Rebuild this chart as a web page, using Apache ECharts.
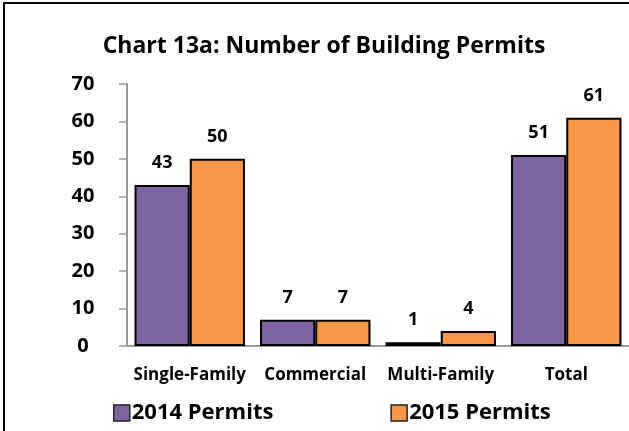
<!DOCTYPE html>
<html>
<head>
<meta charset="utf-8">
<script src="https://cdn.jsdelivr.net/npm/echarts@6/dist/echarts.min.js"></script>
<style>
  html, body { margin: 0; padding: 0; background: #fff; }
  #chart { width: 629px; height: 431px; }
</style>
</head>
<body>
<div id="chart"></div>
<script>
// 数据
var categories = ['Single-Family', 'Commercial', 'Multi-Family', 'Total'];
var permits2014 = [43, 7, 1, 51];
var permits2015 = [50, 7, 4, 61];
var yTicks = [0, 10, 20, 30, 40, 50, 60, 70];

var fontName = 'Open Sans';

var chart = echarts.init(document.getElementById('chart'));

var option = {
        backgroundColor: '#fff',
        animation: false,
        title: {
                text: 'Chart 13a: Number of Building Permits',
                left: 319,
                textAlign: 'center',
                top: 30,
                textStyle: { fontFamily: fontName, fontWeight: 'bold', fontSize: 23, color: '#000' }
        },
        legend: {
                data: ['2014 Permits', '2015 Permits'],
                left: 113,
                top: 402,
                padding: 0,
                itemGap: 117,
                itemWidth: 16,
                itemHeight: 16,
                icon: 'rect',
                itemStyle: { borderColor: '#222', borderWidth: 1.5 },
                textStyle: { fontFamily: fontName, fontWeight: 'bold', fontSize: 22, color: '#000', padding: [0, 0, 0, -3] }
        },
        grid: {
                left: 127,
                right: -10,
                top: 84,
                bottom: 85
        },
        xAxis: [{
                type: 'category',
                data: categories,
                axisLine: { lineStyle: { color: '#999', width: 2 } },
                axisTick: { show: false },
                axisLabel: { interval: 0, fontFamily: fontName, fontWeight: 'bold', fontSize: 17, color: '#000', margin: 21 }
        }],
        yAxis: [{
                type: 'value',
                min: 0,
                max: 70,
                interval: 10,
                axisLine: { show: true, lineStyle: { color: '#999', width: 2 } },
                axisTick: { show: true, length: 8, lineStyle: { color: '#999', width: 1.5 } },
                splitLine: { show: false },
                axisLabel: { fontFamily: fontName, fontWeight: 'bold', fontSize: 20, color: '#000', margin: 44, align: 'center' }
        }],
        series: [
            {
                    name: '2014 Permits',
                    type: 'bar',
                    data: permits2014,
                    barGap: '0%',
                    barCategoryGap: '12%',
                    itemStyle: { color: '#8064A2', borderColor: '#000', borderWidth: 2 },
                    label: { show: true, position: 'top', distance: 13, fontFamily: fontName, fontWeight: 'bold', fontSize: 18, color: '#000' }
            },
            {
                    name: '2015 Permits',
                    type: 'bar',
                    data: permits2015,
                    itemStyle: { color: '#F79646', borderColor: '#000', borderWidth: 2 },
                    label: { show: true, position: 'top', distance: 13, fontFamily: fontName, fontWeight: 'bold', fontSize: 18, color: '#000' }
            }
        ],
        graphic: [{
                type: 'rect',
                shape: { x: 4, y: 3, width: 700, height: 500 },
                style: { fill: 'none', stroke: '#000', lineWidth: 2 },
                silent: true
        }]
};

chart.setOption(option);
</script>
</body>
</html>
